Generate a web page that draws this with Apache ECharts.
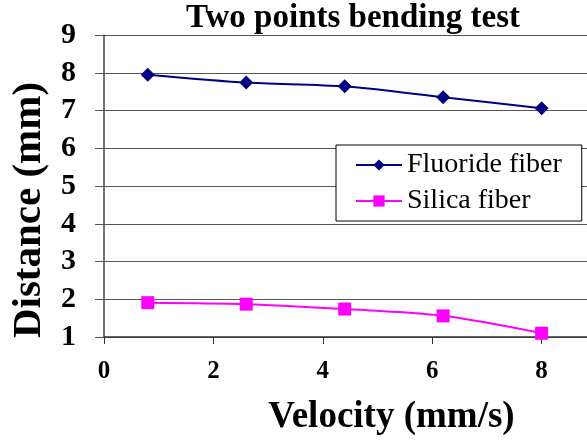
<!DOCTYPE html>
<html>
<head>
<meta charset="utf-8">
<script src="https://cdn.jsdelivr.net/npm/echarts@6/dist/echarts.min.js"></script>
<style>
html,body{margin:0;padding:0;background:#fff;}
#chart{width:587px;height:443px;}
</style>
</head>
<body>
<div id="chart"></div>
<script>
var velocity = [0.8, 2.6, 4.4, 6.2, 8.0];
var fluorideFiber = [7.95, 7.74, 7.64, 7.35, 7.06];
var silicaFiber = [1.91, 1.87, 1.74, 1.56, 1.10];
var seriesNames = ['Fluoride fiber', 'Silica fiber'];

var FONT = "'Liberation Serif','Times New Roman',serif";

function pairs(xs, ys) {
	var out = [];
	for (var i = 0; i < xs.length; i++) {
		out.push([xs[i], ys[i]]);
	}
	return out;
}

var myChart = echarts.init(document.getElementById('chart'));
var option = {
	animation: false,
	title: {
		text: 'Two points bending test',
		left: 348,
		textAlign: 'center',
		top: -3,
		textStyle: {fontFamily: FONT, fontWeight: 'bold', fontSize: 33, color: '#000'}
	},
	grid: {left: 104, right: 0, top: 35, bottom: 106, outerBoundsMode: 'none', containLabel: false},
	legend: {
		data: seriesNames,
		orient: 'vertical',
		left: 336,
		top: 145,
		backgroundColor: '#fff',
		borderColor: '#000',
		borderWidth: 1,
		borderRadius: 0,
		padding: [6, 20, 6, 19],
		itemGap: 8,
		itemWidth: 46,
		itemHeight: 14,
		textStyle: {fontFamily: FONT, fontSize: 28, color: '#000'}
	},
	xAxis: {
		type: 'value',
		min: 0,
		max: 8.83,
		interval: 2,
		name: 'Velocity (mm/s)',
		nameLocation: 'middle',
		nameGap: 62,
		nameTextStyle: {fontFamily: FONT, fontWeight: 'bold', fontSize: 37, color: '#000', padding: [0, 0, 0, 92]},
		axisLine: {lineStyle: {color: '#333', width: 1.5}},
		axisTick: {show: true, length: 7, lineStyle: {color: '#333'}},
		axisLabel: {
			showMaxLabel: false,
			margin: 22,
			fontFamily: FONT, fontWeight: 'bold', fontSize: 25, color: '#000'
		},
		splitLine: {show: false}
	},
	yAxis: {
		type: 'value',
		min: 1,
		max: 9,
		interval: 1,
		name: 'Distance (mm)',
		nameLocation: 'middle',
		nameGap: 54,
		nameTextStyle: {fontFamily: FONT, fontWeight: 'bold', fontSize: 41, color: '#000', padding: [0, 48, 0, 0]},
		axisLine: {show: true, lineStyle: {color: '#444', width: 1.5}},
		axisTick: {show: true, length: 9, lineStyle: {color: '#555'}},
		axisLabel: {margin: 28, fontFamily: FONT, fontWeight: 'bold', fontSize: 30, color: '#000'},
		splitLine: {show: true, lineStyle: {color: '#555', width: 1.2}}
	},
	series: [
		{
			name: seriesNames[0],
			type: 'line',
			data: pairs(velocity, fluorideFiber),
			smooth: 0.25,
			symbol: 'diamond',
			symbolSize: 14,
			itemStyle: {color: '#000080'},
			lineStyle: {color: '#000080', width: 2}
		},
		{
			name: seriesNames[1],
			type: 'line',
			data: pairs(velocity, silicaFiber),
			smooth: 0.3,
			symbol: 'rect',
			symbolSize: 13,
			itemStyle: {color: '#ff00ff'},
			lineStyle: {color: '#ff00ff', width: 2}
		}
	]
};
myChart.setOption(option);
</script>
</body>
</html>
